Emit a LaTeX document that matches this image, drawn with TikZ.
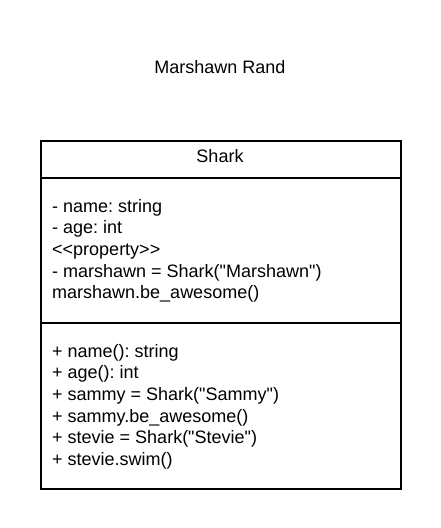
\documentclass[tikz,border=0pt]{standalone}
\usepackage{fontspec}
\newfontfamily\umlfont{Liberation Sans}
\frenchspacing
\begin{document}
\begin{tikzpicture}[x=1pt,y=-1pt,
  txt/.style={inner sep=0pt,anchor=base west,font=\umlfont\fontsize{18}{20}\selectfont},
  ctxt/.style={inner sep=0pt,anchor=base,font=\umlfont\fontsize{18}{20}\selectfont},
  frame/.style={draw=black,line width=2pt}]
\useasboundingbox[fill=white] (0,0) rectangle (440,528);
\node[ctxt] (title) at (220,73.3) {Marshawn Rand};
\node[frame,minimum width=360pt,minimum height=348pt,inner sep=0pt,anchor=north west] (box) at (40,140) {};
\coordinate (d1l) at (40,178); \coordinate (d1r) at (400,178);
\coordinate (d2l) at (40,323); \coordinate (d2r) at (400,323);
\draw[frame] (d1l) -- (d1r);
\draw[frame] (d2l) -- (d2r);
\node[ctxt] (name) at (220,162.5) {Shark};
\node[txt] (a1) at (52,212) {- name: string};
\node[txt] (a2) at (52,233.7) {- age: int};
\node[txt] (a3) at (52,255.3) {<{}<property>{}>};
\node[txt] (a4) at (52,277) {- marshawn = Shark("Marshawn")};
\node[txt] (a5) at (52,298.7) {marshawn.be\_awesome()};
\node[txt] (m1) at (52,357) {+ name(): string};
\node[txt] (m2) at (52,378.7) {+ age(): int};
\node[txt] (m3) at (52,400.3) {+ sammy = Shark("Sammy")};
\node[txt] (m4) at (52,422) {+ sammy.be\_awesome()};
\node[txt] (m5) at (52,443.7) {+ stevie = Shark("Stevie")};
\node[txt] (m6) at (52,465.3) {+ stevie.swim()};
\end{tikzpicture}
\end{document}
